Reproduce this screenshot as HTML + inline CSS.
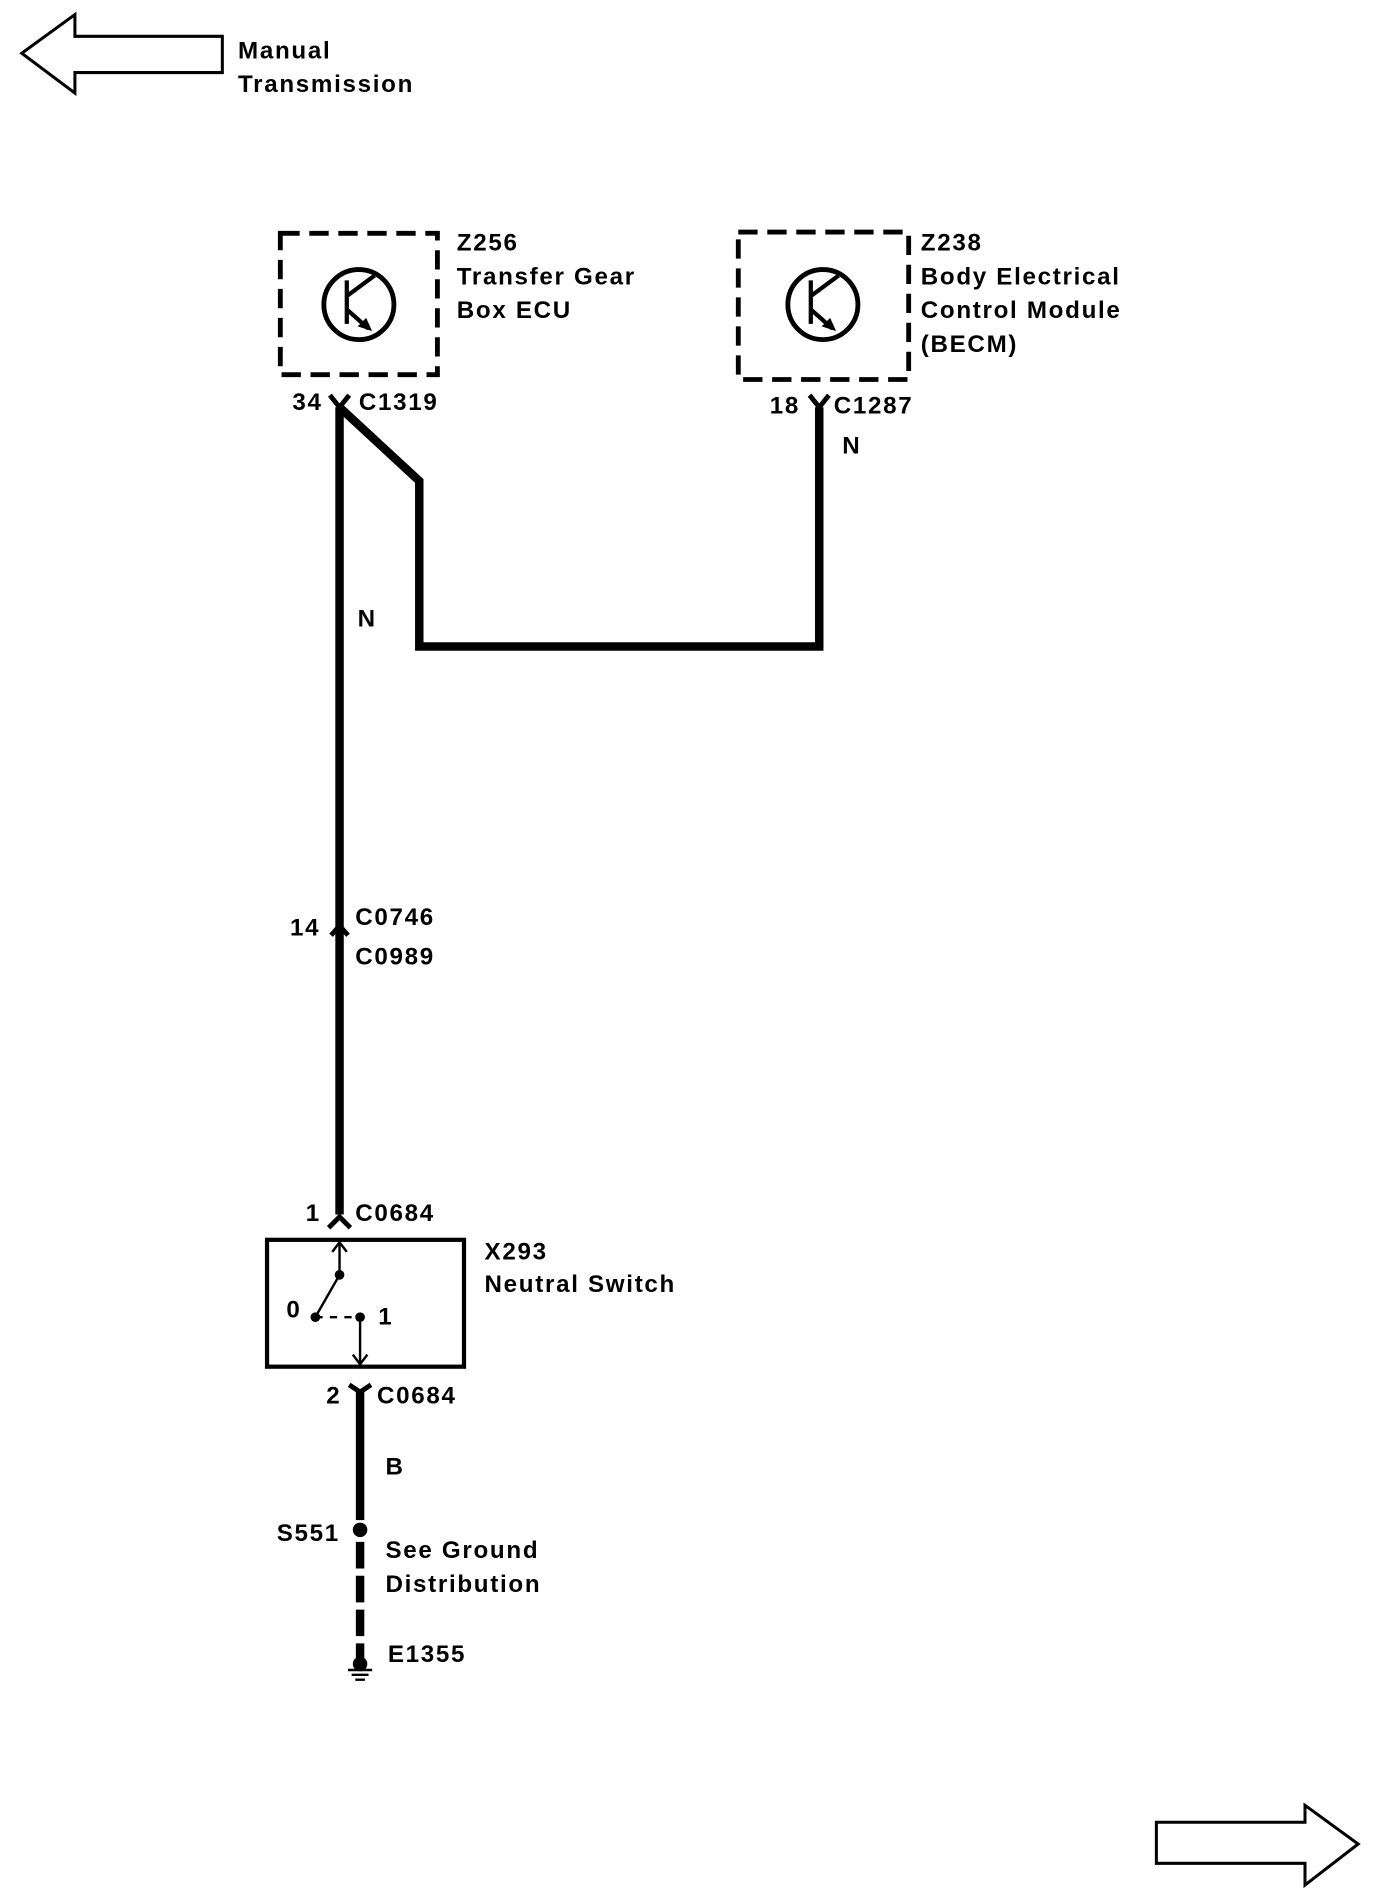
<!DOCTYPE html>
<html><head><style>html,body{margin:0;padding:0;background:#fff}svg{display:block}</style></head>
<body>
<svg width="1392" height="1896" viewBox="0 0 1152 1569" xmlns="http://www.w3.org/2000/svg" font-family="Liberation Sans, sans-serif" font-weight="bold" font-size="20" letter-spacing="1.4">
<rect width="1152" height="1569" fill="#fff"/>
<g fill="none" stroke="#000">
<polygon points="18,44 62,12 62,30 184,30 184,60 62,60 62,77" stroke-width="2.5"/>
<polygon points="957,1508 1080,1508 1080,1494 1124,1526 1080,1560 1080,1542 957,1542" stroke-width="2.5"/>
<rect x="232" y="193" width="130" height="117" stroke-width="4" stroke-dasharray="16,8"/>
<rect x="611" y="192" width="141" height="122" stroke-width="4" stroke-dasharray="16,8"/>
<circle cx="297" cy="252" r="29" stroke-width="4"/>
<circle cx="681" cy="252" r="29" stroke-width="4"/>
<path d="M287,232 V268 M287,245 L310,228 M287,256 L305,272" stroke-width="3.5"/>
<path d="M671,232 V268 M671,245 L694,228 M671,256 L689,272" stroke-width="3.5"/>
<path d="M281,337 V1005 M281,337 L347,398 V535 H678 V337" stroke-width="7"/>
<path d="M273,327 L281,337 L289,327 M670,327 L678,337 L686,327" stroke-width="4"/>
<path d="M274,774 L281,766 L288,774" stroke-width="4"/>
<path d="M272,1016 L281,1007 L290,1016" stroke-width="4"/>
<rect x="221" y="1026" width="163" height="105" stroke-width="3.5"/>
<path d="M281,1028 V1055 L261,1090 M298,1090 V1129 M275,1036 L281,1028 L287,1036 M292,1121 L298,1129 L304,1121" stroke-width="2"/>
<path d="M261,1090 H298" stroke-width="2" stroke-dasharray="6,6"/>
<path d="M298,1150 V1258" stroke-width="7"/>
<path d="M289,1146 L298,1152 L307,1146" stroke-width="4"/>
<path d="M298,1276 V1372" stroke-width="7" stroke-dasharray="22,6"/>
<path d="M288,1382 H308 M291,1386 H305 M294,1390 H302" stroke-width="2"/>
</g>
<polygon points="308,274 296,270 303,263"/>
<polygon points="692,274 680,270 687,263"/>
<circle cx="281" cy="1055" r="4"/><circle cx="261" cy="1090" r="4"/><circle cx="298" cy="1090" r="4"/>
<circle cx="298" cy="1266" r="6"/>
<circle cx="298" cy="1377" r="6"/>
<g dominant-baseline="middle">
<text x="197" y="43">Manual</text><text x="197" y="71">Transmission</text>
<text x="378" y="202">Z256</text><text x="378" y="230">Transfer Gear</text><text x="378" y="258">Box ECU</text>
<text x="762" y="202">Z238</text><text x="762" y="230">Body Electrical</text><text x="762" y="258">Control Module</text><text x="762" y="286">(BECM)</text>
<text x="242" y="334">34</text><text x="297" y="334">C1319</text>
<text x="637" y="337">18</text><text x="690" y="337">C1287</text>
<text x="697" y="370">N</text><text x="296" y="513">N</text>
<text x="240" y="769">14</text><text x="294" y="760">C0746</text><text x="294" y="793">C0989</text>
<text x="253" y="1005">1</text><text x="294" y="1005">C0684</text>
<text x="401" y="1037">X293</text><text x="401" y="1064">Neutral Switch</text>
<text x="237" y="1085">0</text><text x="313" y="1091">1</text>
<text x="270" y="1156">2</text><text x="312" y="1156">C0684</text>
<text x="319" y="1215">B</text>
<text x="229" y="1270">S551</text>
<text x="319" y="1284">See Ground</text><text x="319" y="1312">Distribution</text>
<text x="321" y="1370">E1355</text>
</g>
</svg>
</body></html>
